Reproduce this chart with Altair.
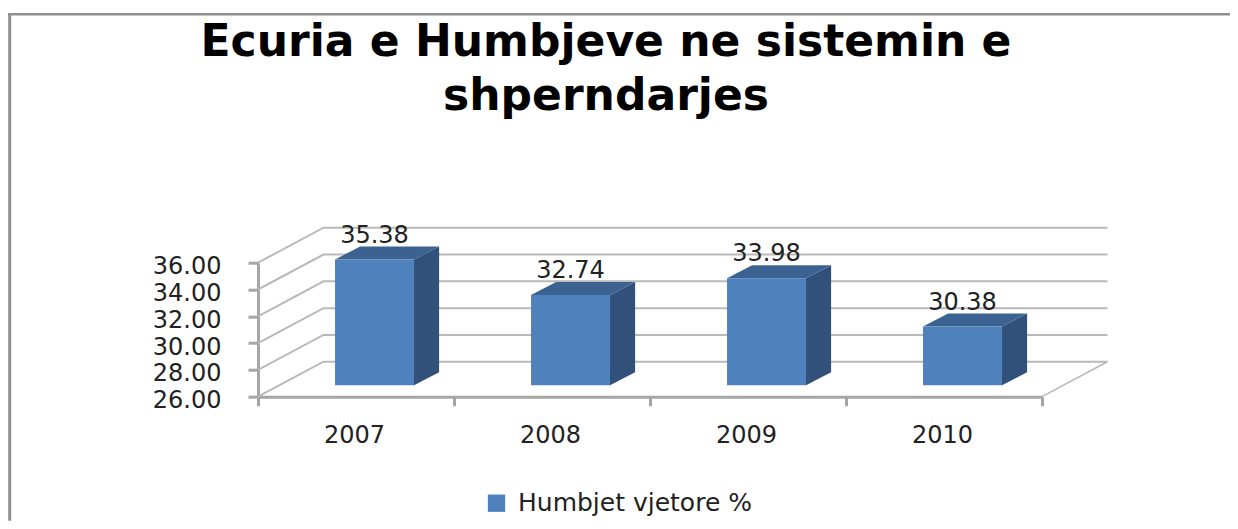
import altair as alt
import pandas as pd

years = ["2007", "2008", "2009", "2010"]
values = [35.38, 32.74, 33.98, 30.38]
y_ticks = [26, 28, 30, 32, 34, 36]
series = "Humbjet vjetore %"
title_lines = ["Ecuria e Humbjeve ne sistemin e", "shperndarjes"]

# 3-D projection of the chart box, in scale units
Y0, Y1 = 26, 36
WALL_DX, WALL_DY = 0.334, 2.61
BAR_LEFT, BAR_W = 0.393, 0.403
BAR_DX, BAR_DY = 0.128, 0.97
BAR_LIFT = 0.858

FRONT, TOP, SIDE = "#4f81bd", "#3c6291", "#31517b"
GRID, AXIS, FRAME, INK = "#b9b9b9", "#a6a6a6", "#8f8f8f", "#222222"
FONT = "DejaVu Sans"

wall = []
for t in y_ticks:
    wall += [
        dict(t=t, k=0, x=0, y=t),
        dict(t=t, k=1, x=WALL_DX, y=t + WALL_DY),
        dict(t=t, k=2, x=len(years) + WALL_DX, y=t + WALL_DY),
    ]
wall_df = pd.DataFrame(wall)
floor_edge = pd.DataFrame([
    dict(x=len(years), y=Y0, k=0),
    dict(x=len(years) + WALL_DX, y=Y0 + WALL_DY, k=1),
])

front, side, top = [], [], []
for i, (yr, v) in enumerate(zip(years, values)):
    l = i + BAR_LEFT
    r = l + BAR_W
    base = Y0 + BAR_LIFT
    h = v + BAR_LIFT
    front.append(dict(year=yr, x=l, x2=r, y=base, y2=h, v=f"{v:.2f}", cx=(l + r) / 2, s=series))
    side += [
        dict(year=yr, x=r, lo=base, hi=h),
        dict(year=yr, x=r + BAR_DX, lo=base + BAR_DY, hi=h + BAR_DY),
    ]
    top += [
        dict(year=yr, x=l, lo=h, hi=h),
        dict(year=yr, x=l + BAR_DX, lo=h, hi=h + BAR_DY),
        dict(year=yr, x=r, lo=h, hi=h + BAR_DY),
        dict(year=yr, x=r + BAR_DX, lo=h + BAR_DY, hi=h + BAR_DY),
    ]
front_df, side_df, top_df = map(pd.DataFrame, (front, side, top))

xs = alt.Scale(domain=[0, len(years)], nice=False, zero=False)
ys = alt.Scale(domain=[Y0, Y1], nice=False, zero=False)

# Real axes: x ticks on the category boundaries, year labels at the centres
axis_vals = [i / 2 for i in range(2 * len(years) + 1)]
year_expr = "{" + ",".join(f"'{2 * i + 1}':'{y}'" for i, y in enumerate(years)) + "}"
x_axis = alt.Axis(
    values=axis_vals, title=None, domainColor=AXIS, domainWidth=3, tickWidth=3, tickSize=9,
    tickColor=AXIS, grid=False, labelFont=FONT, labelFontSize=24, labelColor=INK,
    labelPadding=18, labelOverlap=False, labelFlush=False, labelOffset=-2,
    labelExpr=f"({year_expr})[datum.value * 2] || ''",
    tickOpacity={"condition": {"test": "datum.value % 1 == 0", "value": 1}, "value": 0},
)
y_axis = alt.Axis(
    values=y_ticks, title=None, domainColor=AXIS, domainWidth=3, tickWidth=3, tickSize=10,
    tickColor=AXIS, grid=False, labelFont=FONT, labelFontSize=24, labelColor=INK,
    labelPadding=27, format=".2f", labelOverlap=False, labelFlush=False, labelOffset=4,
)


def qx(field):
    return alt.X(field, scale=xs, axis=x_axis)


def qy(field):
    return alt.Y(field, scale=ys, axis=y_axis)


wall_lines = alt.Chart(wall_df).mark_line(color=GRID, strokeWidth=2).encode(
    x=qx("x:Q"), y=qy("y:Q"), detail="t:N", order="k:Q"
)
floor_line = alt.Chart(floor_edge).mark_line(color=GRID, strokeWidth=1.5).encode(
    x=qx("x:Q"), y=qy("y:Q"), order="k:Q"
)
side_marks = alt.Chart(side_df).mark_area(color=SIDE).encode(
    x=qx("x:Q"), y=qy("lo:Q"), y2="hi:Q", detail="year:N"
)
top_marks = alt.Chart(top_df).mark_area(color=TOP).encode(
    x=qx("x:Q"), y=qy("lo:Q"), y2="hi:Q", detail="year:N"
)
front_marks = alt.Chart(front_df).mark_rect().encode(
    x=qx("x:Q"), x2="x2:Q", y=qy("y:Q"), y2="y2:Q",
    color=alt.Color("s:N", scale=alt.Scale(domain=[series], range=[FRONT]), legend=alt.Legend(
        title=None, orient="none", legendX=226, legendY=228, symbolType="square",
        symbolSize=300, symbolStrokeWidth=0, labelFont=FONT, labelFontSize=25,
        labelColor=INK, labelOffset=9, labelLimit=500,
    )),
)
labels = alt.Chart(front_df).mark_text(
    font=FONT, fontSize=24, color=INK, dy=-17, baseline="alphabetic"
).encode(x=qx("cx:Q"), y=qy("y2:Q"), text="v:N")

frame_top = alt.Chart(pd.DataFrame({"a": [0]})).mark_rule(color=FRAME, strokeWidth=2.5).encode(
    x=alt.value(-250), x2=alt.value(972), y=alt.value(-248.5)
)
frame_left = alt.Chart(pd.DataFrame({"a": [0]})).mark_rule(color=FRAME, strokeWidth=3).encode(
    x=alt.value(-248.3), y=alt.value(-249.5), y2=alt.value(258)
)

chart = alt.layer(
    frame_top, frame_left, wall_lines, floor_line, side_marks, top_marks, front_marks, labels
).properties(
    width=784,
    height=134,
    padding={"left": 250, "top": 254.7, "right": 188, "bottom": 124.3},
    autosize=alt.AutoSizeParams(type="none"),
    background="white",
    title=alt.TitleParams(
        text=title_lines, font=FONT, fontSize=44, fontWeight="bold", color="#000000",
        anchor="middle", dx=-44, offset=-107, lineHeight=54,
    ),
).configure_view(stroke=None)

chart.save("out.html", embed_options={"renderer": "svg", "actions": False})
